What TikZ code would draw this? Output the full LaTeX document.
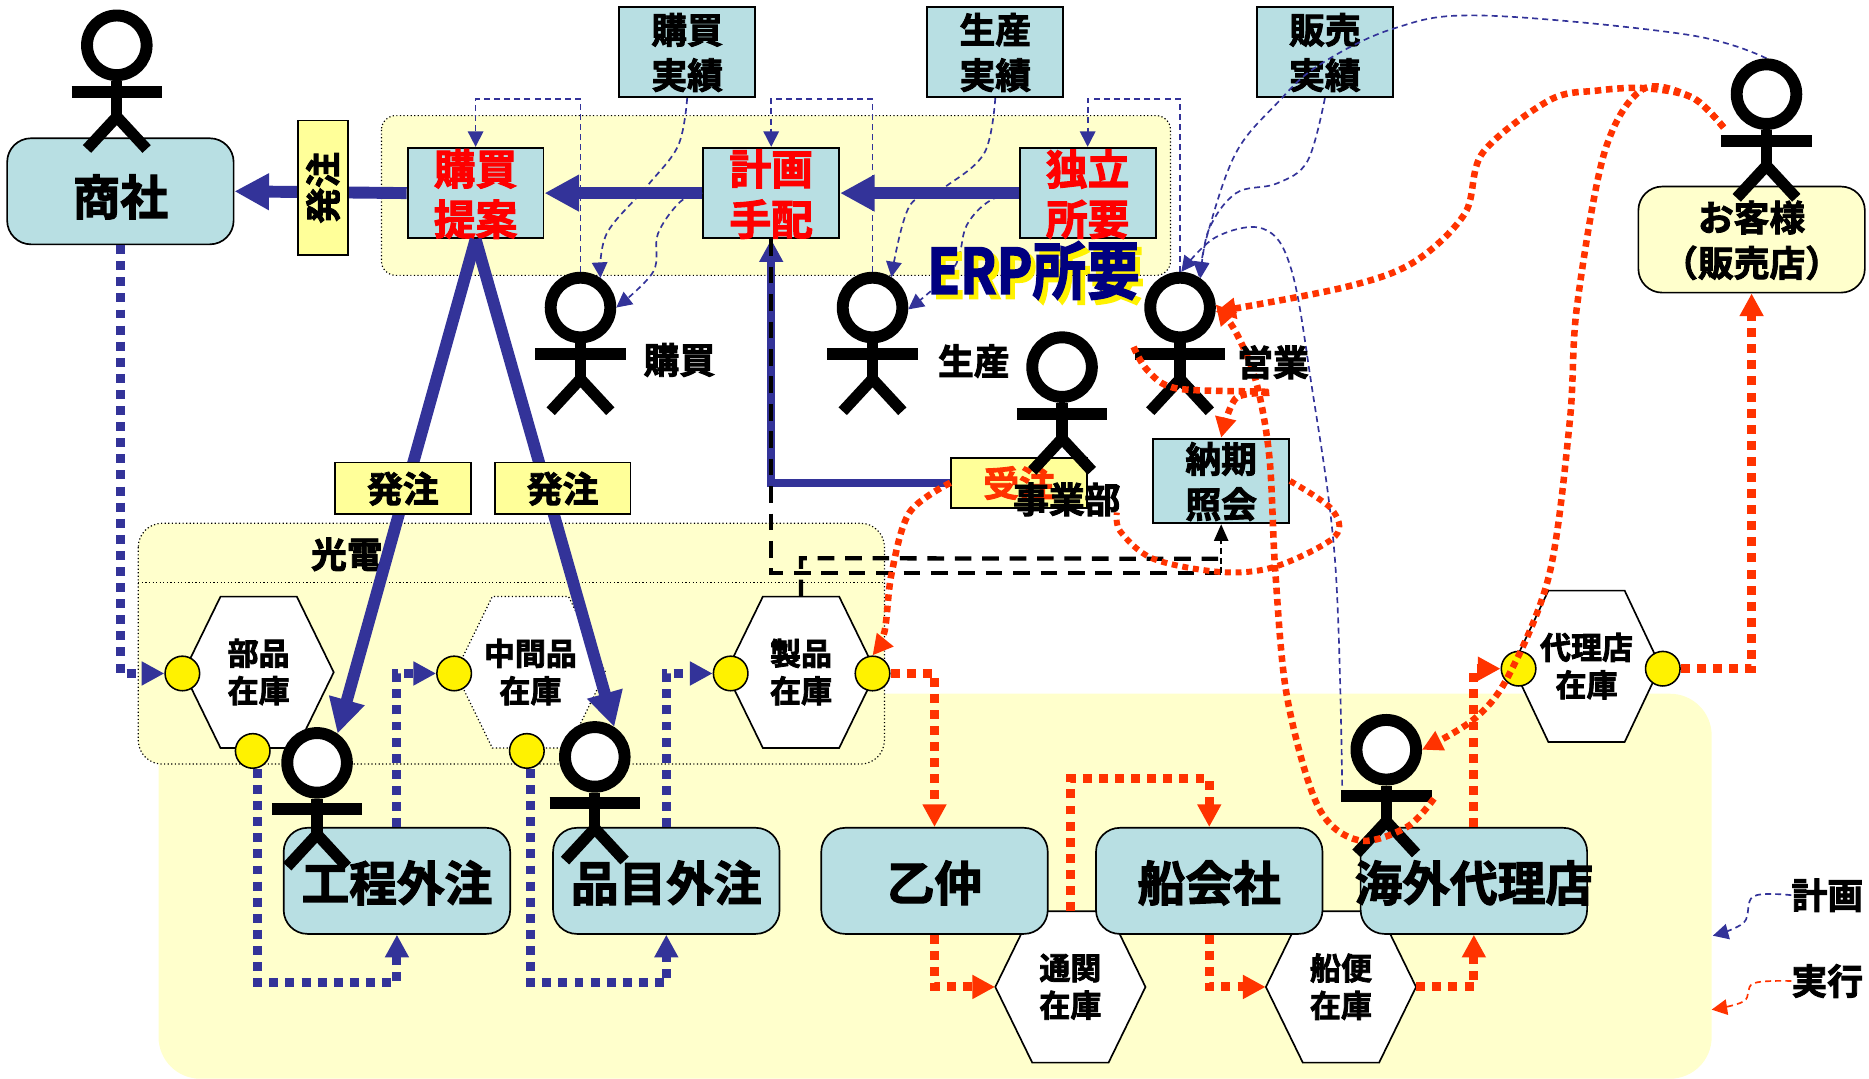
\documentclass[tikz,border=0pt]{standalone}
\usepackage{fontspec}
\setmainfont{Noto Sans CJK JP}[BoldFont=* Bold,BoldFeatures={FakeBold=2.5}]
\usetikzlibrary{arrows.meta,calc}
\definecolor{boxblue}{HTML}{B8DFE3}
\definecolor{paleyel}{HTML}{FFFFCC}
\definecolor{baryel}{HTML}{FFFF99}
\definecolor{flowblue}{HTML}{333399}
\definecolor{flowred}{HTML}{FF3300}
\definecolor{erpnavy}{HTML}{000080}
\pgfdeclarelayer{bgd}\pgfdeclarelayer{low}\pgfdeclarelayer{lab}\pgfdeclarelayer{mid}
\pgfsetlayers{bgd,low,lab,mid,main}
\newcommand{\dn}[2][3pt]{\raisebox{\dimexpr-#1-0.25em\relax}[0pt][0pt]{\begin{tabular}{@{}c@{}}#2\end{tabular}}}
\tikzset{
 fsA/.style={font=\bfseries\fontsize{40}{46}\selectfont},
 fsB/.style={font=\bfseries\fontsize{35}{42}\selectfont},
 fsC/.style={font=\bfseries\fontsize{30}{38}\selectfont},
 fsD/.style={font=\bfseries\fontsize{26}{31}\selectfont},
 rbox/.style={draw=black,line width=1.4pt,fill=boxblue,rounded corners=20pt,minimum width=190,minimum height=89,inner sep=0pt,fsA},
 sbox/.style={draw=black,line width=1.6pt,fill=boxblue,minimum width=114,minimum height=76,inner sep=0pt,fsC},
 redbox/.style={sbox,fsB,text=red},
 tagbox/.style={draw=black,line width=1.4pt,fill=baryel,minimum width=114,minimum height=43,inner sep=0pt,fsC},
 plain/.style={inner sep=0pt,fsC},
 dot/.style={circle,draw=black,line width=1.3pt,fill=yellow,minimum size=29,inner sep=0pt},
 headn/.style={circle,draw=black,line width=10pt,fill=white,minimum size=50,inner sep=0pt},
 stickbody/.style={draw=black,line width=9.5pt},
 group/.style={draw=black,line width=1pt,dotted,fill=paleyel},
 hexsolid/.style={draw=black,line width=1.4pt,fill=white},
 hexdot/.style={draw=black,line width=1pt,dotted,fill=white},
 hexlabel/.style={minimum width=126,minimum height=127,inner sep=0pt,fsD},
 thickflow/.style={draw=flowblue,line width=10pt,-{Triangle[length=29pt,width=29pt]}},
 midflow/.style={draw=flowblue,line width=6.5pt,-{Triangle[length=19pt,width=19pt]}},
 bluedots/.style={draw=flowblue,line width=7.5pt,dash pattern=on 7.5pt off 6pt,-{Triangle[length=19pt,width=19pt]}},
 reddots/.style={draw=flowred,line width=7.5pt,dash pattern=on 7.5pt off 6pt,-{Triangle[length=19pt,width=19pt]}},
 redcurve/.style={draw=flowred,line width=5.5pt,dash pattern=on 5.5pt off 4pt,-{Triangle[length=17pt,width=17pt]}},
 redcurvenotip/.style={draw=flowred,line width=5pt,dash pattern=on 5pt off 4pt},
 thindash/.style={draw=flowblue,line width=1.4pt,dash pattern=on 5pt off 3.5pt,-{Triangle[length=13pt,width=13pt]}},
 thinred/.style={draw=flowred,line width=1.4pt,dash pattern=on 5pt off 3.5pt,-{Triangle[length=13pt,width=13pt]}},
 blackdash/.style={draw=black,line width=3.6pt,dash pattern=on 14pt off 9pt},
 blackthin/.style={draw=black,line width=1.4pt,dash pattern=on 5pt off 3pt,-{Triangle[length=14pt,width=12pt]}},
 erpfont/.style={inner sep=0pt,font=\bfseries\fontsize{42}{46}\selectfont},
}
\newcommand{\stickman}[3]{%
 \begin{scope}[shift={(#2,#3)}]
  \draw[stickbody] (0,30) -- (0,62);
  \draw[draw=black,line width=10pt] (-38,39) -- (38,39);
  \draw[stickbody] (-25,87) -- (0,60) -- (25,87);
  \node[headn] (#1) at (0,0) {};
 \end{scope}}
\newcommand{\hexa}[6]{% name x y halfw style text
 \begin{scope}[shift={(#2,#3)}]
  \path[#5] (-#4,0) -- (-32,-63.5) -- (32,-63.5) -- (#4,0) -- (32,63.5) -- (-32,63.5) -- cycle;
  \node[hexlabel,minimum width=2*#4] (#1) at (0,0) {\dn[3pt]{#6}};
 \end{scope}}
\begin{document}
\begin{tikzpicture}[x=1pt,y=-1pt]
\useasboundingbox (0,0) rectangle (1568,904.4);
\begin{pgfonlayer}{bgd}
 \fill[paleyel,rounded corners=35pt] (133,582) rectangle (1436,905);
 \path[group,rounded corners=12pt] (320,97) rectangle (982,231);
 \path[group,rounded corners=20pt] (116,439) rectangle (742,641);
 \draw[black,line width=1pt,dotted] (116,489) -- (742,489);
 \node[plain] (lKoden) at (291,465) {光電};
 \hexa{hBuhin}{217}{564}{63}{hexsolid}{部品\\在庫}
 \hexa{hChukan}{445}{564}{63}{hexdot}{中間品\\在庫}
 \hexa{hSeihin}{672}{564}{63}{hexsolid}{製品\\在庫}
 \hexa{hDairi}{1331}{559}{62}{hexsolid}{代理店\\在庫}
 \hexa{hTsukan}{898}{828}{63}{hexsolid}{通関\\在庫}
 \hexa{hFunabin}{1125}{828}{63}{hexsolid}{船便\\在庫}
 \node[rbox] (bTrade) at (101,160.5) {\dn[6pt]{商社}};
 \node[rbox] (bKoutei) at (333,739) {\dn[3pt]{工程外注}};
 \node[rbox] (bHinmoku) at (559,739) {\dn[3pt]{品目外注}};
 \node[rbox] (bOtsu) at (784,739) {\dn[3pt]{乙仲}};
 \node[rbox] (bShip) at (1014.5,739) {\dn[3pt]{船会社}};
 \node[rbox] (bOver) at (1236.5,739) {\makebox[0pt]{\dn[3pt]{海外代理店}}};
 \node[rbox,fill=paleyel,fsC] (bCust) at (1469.5,201) {\dn[3pt]{お客様\\（販売店）}};
 \node[redbox] (bProp) at (399,162) {\dn[3pt]{購買\\提案}};
 \node[redbox] (bPlan) at (647,162) {\dn[3pt]{計画\\手配}};
 \node[redbox] (bIndep) at (912.5,162) {\dn[3pt]{独立\\所要}};
 \node[sbox] (bBuyAct) at (576.5,43.5) {\dn[3pt]{購買\\実績}};
 \node[sbox] (bProdAct) at (835,43.5) {\dn[3pt]{生産\\実績}};
 \node[sbox] (bSaleAct) at (1111.5,43.5) {\dn[3pt]{販売\\実績}};
 \node[sbox,minimum height=71] (bInq) at (1024.5,403.5) {\dn[3pt]{納期\\照会}};
\end{pgfonlayer}
\begin{pgfonlayer}{lab}
 \node[tagbox,minimum width=42,minimum height=113] (tVert) at (271,157.5) {\rotatebox{90}{発注}};
 \node[tagbox] (tLeft) at (338,409.5) {\dn[3pt]{発注}};
 \node[tagbox] (tRight) at (472,409.5) {\dn[3pt]{発注}};
 \node[tagbox,text=flowred,minimum height=42] (tOrder) at (855,405) {\dn[3pt]{受注}};
\end{pgfonlayer}
\begin{pgfonlayer}{mid}
 \stickman{pTrade}{98}{38}
 \stickman{pBuy}{487}{258}
 \stickman{pProd}{732}{258}
 \stickman{pSales}{990}{258}
 \stickman{pDiv}{891}{308}
 \stickman{pCust}{1482}{79}
 \stickman{pKoutei}{266}{640}
 \stickman{pHinmoku}{499}{635}
 \stickman{pOver}{1163}{629}
 \node[dot] (c1) at (153,565) {};
 \node[dot] (c2) at (381,565) {};
 \node[dot] (c3) at (613,565) {};
 \node[dot] (c4) at (732,565) {};
 \node[dot] (c5) at (212,630) {};
 \node[dot] (c6) at (442,630) {};
 \node[dot] (c7) at (1274,561) {};
 \node[dot] (c8) at (1395,561) {};
\end{pgfonlayer}
\coordinate (custArm) at ($(pCust.center)+(-36,28)$);
\coordinate (overArmR) at ($(pOver.center)+(40,41)$);
\coordinate (overArmL) at ($(pOver.center)+(-37,30)$);
\coordinate (salesArmL) at ($(pSales.center)+(-39,33)$);
\coordinate (divFoot) at ($(pDiv.center)+(46,122)$);
\coordinate (inqFoot) at ($(bInq.south)+(0,41)$);
\coordinate (inqMid) at ($(bInq.south)+(0,29)$);
\begin{pgfonlayer}{low}
 % thin planning lines
 \draw[thindash] (pBuy.north) -- ++(0,-145) -| (bProp.north);
 \draw[thindash] (pProd.north) -- ++(0,-145) -| (bPlan.north);
 \draw[thindash] (pSales.north) -- ++(0,-145) -| (bIndep.north);
 \draw[thindash] plot[smooth,tension=.6] coordinates {(bBuyAct.south) (569,122) (543,156) (509,196) (pBuy.56)};
 \draw[thindash] plot[smooth,tension=.6] coordinates {(bPlan.west) (571,169) (552,196) (548,228) (pBuy.0)};
 \draw[thindash] plot[smooth,tension=.6] coordinates {(bProdAct.south) (826,128) (794,156) (763,173) (pProd.58)};
 \draw[thindash] plot[smooth,tension=.6] coordinates {(bIndep.west) (831,168) (811,189) (800,225) (pProd.-3)};
 \draw[thindash] plot[smooth,tension=.6] coordinates {(bSaleAct.south) (1097,135) (1071,154) (1037,162) (1014,193) (pSales.55)};
 \draw[thindash] plot[smooth,tension=.6] coordinates {(pCust.north) (1415,29) (1243,13) (1169,24) (1106,55) (1071,87) (1037,128) (1014,193) (pSales.58)};
 \draw[thindash] plot[smooth,tension=.6] coordinates {(overArmL) (1120,470) (1100,321) (1083,225) (1060,192) (1020,199) (pSales.88)};
 % thick order flows
 \draw[thickflow] (bIndep.west) -- (bPlan.east);
 \draw[thickflow] (bPlan.west) -- (bProp.east);
 \draw[thickflow] (bProp.west) -- (bTrade.east);
 \draw[thickflow] (bProp.south) -- (pKoutei.55);
 \draw[thickflow] (bProp.south) -- (pHinmoku.57);
 \draw[midflow] (tOrder.west) -| (bPlan.south);
 % black dashed
 \draw[blackdash] (bPlan.south) |- (inqFoot);
 \draw[blackdash] (hSeihin.north) -- ++(0,-32) -- (inqMid);
 \draw[blackthin] (inqFoot) -- (bInq.south);
 % blue material
 \draw[bluedots] (bTrade.south) |- (c1.west);
 \draw[bluedots] (bKoutei.north) |- (c2.west);
 \draw[bluedots] (bHinmoku.north) |- (c3.west);
 \draw[bluedots] ([xshift=4pt]c5.south) -- ++(0,179) -| (bKoutei.south);
 \draw[bluedots] ([xshift=3pt]c6.south) -- ++(0,179) -| (bHinmoku.south);
 % red material
 \draw[reddots] (c4.east) -| (bOtsu.north);
 \draw[reddots] (bOtsu.south) |- (hTsukan.west);
 \draw[reddots] (hTsukan.north) -- ++(0,-111) -| (bShip.north);
 \draw[reddots] (bShip.south) |- (hFunabin.west);
 \draw[reddots] (hFunabin.east) -| (bOver.south);
 \draw[reddots] (bOver.north) |- (c7.west);
 \draw[reddots] (c8.east) -| (bCust.south);
\end{pgfonlayer}
% curved execution lines
\draw[redcurve] plot[smooth,tension=.55] coordinates {(custArm) (1420,82) (1380,74) (1340,76) (1300,84) (1244,128) (1229,179) (1186,220) (1128,241) (pSales.-7)};
\draw[redcurve] plot[smooth,tension=.55] coordinates {(custArm) (1420,82) (1378,75) (1346,128) (1323,257) (1317,353) (1300,481) (1266,566) (1237,603) (pOver.0)};
\draw[redcurve] plot[smooth,tension=.55] coordinates {(overArmR) (1180,694) (1140,705) (1106,677) (1080,586) (1070,481) (1065,384) (1054,321) (1037,279) (pSales.5)};
\draw[redcurve] plot[smooth,tension=.55] coordinates {(salesArmL) (963,311) (988,326) (1065,329) (1037,334) (bInq.north)};
\draw[redcurvenotip] plot[smooth,tension=.55] coordinates {(bInq.east) (1117,427) (1120,450) (1071,475) (1026,480) (968,469) (940,446) (divFoot)};
\draw[redcurve] plot[smooth,tension=.55] coordinates {(tOrder.west) (763,430) (748,481) (742,530) (c4.north)};
% legend
\node[plain] (lPlan) at (1533,751) {計画};
\node[plain] (lExec) at (1533,823) {実行};
\coordinate (legPlanTip) at (1437,785);
\coordinate (legExecTip) at (1436,847);
\draw[thindash] plot[smooth,tension=.6] coordinates {(lPlan.west) (1471,752) (1463,774) (legPlanTip)};
\draw[thinred] plot[smooth,tension=.6] coordinates {(lExec.west) (1471,825) (1463,840) (legExecTip)};
% person labels
\node[plain] (lBuy) at (570,302) {購買};
\node[plain] (lProd) at (817,303) {生産};
\node[plain] (lSales) at (1068,304) {営業};
\node[plain] (lDiv) at (895,419) {事業部};
\node[erpfont,text=yellow] (lErpShadow) at (871,231) {\scalebox{1.07}[1.25]{ERP所要}};
\node[erpfont,text=erpnavy] (lErp) at (867,227) {\scalebox{1.07}[1.25]{ERP所要}};
\end{tikzpicture}
\end{document}
